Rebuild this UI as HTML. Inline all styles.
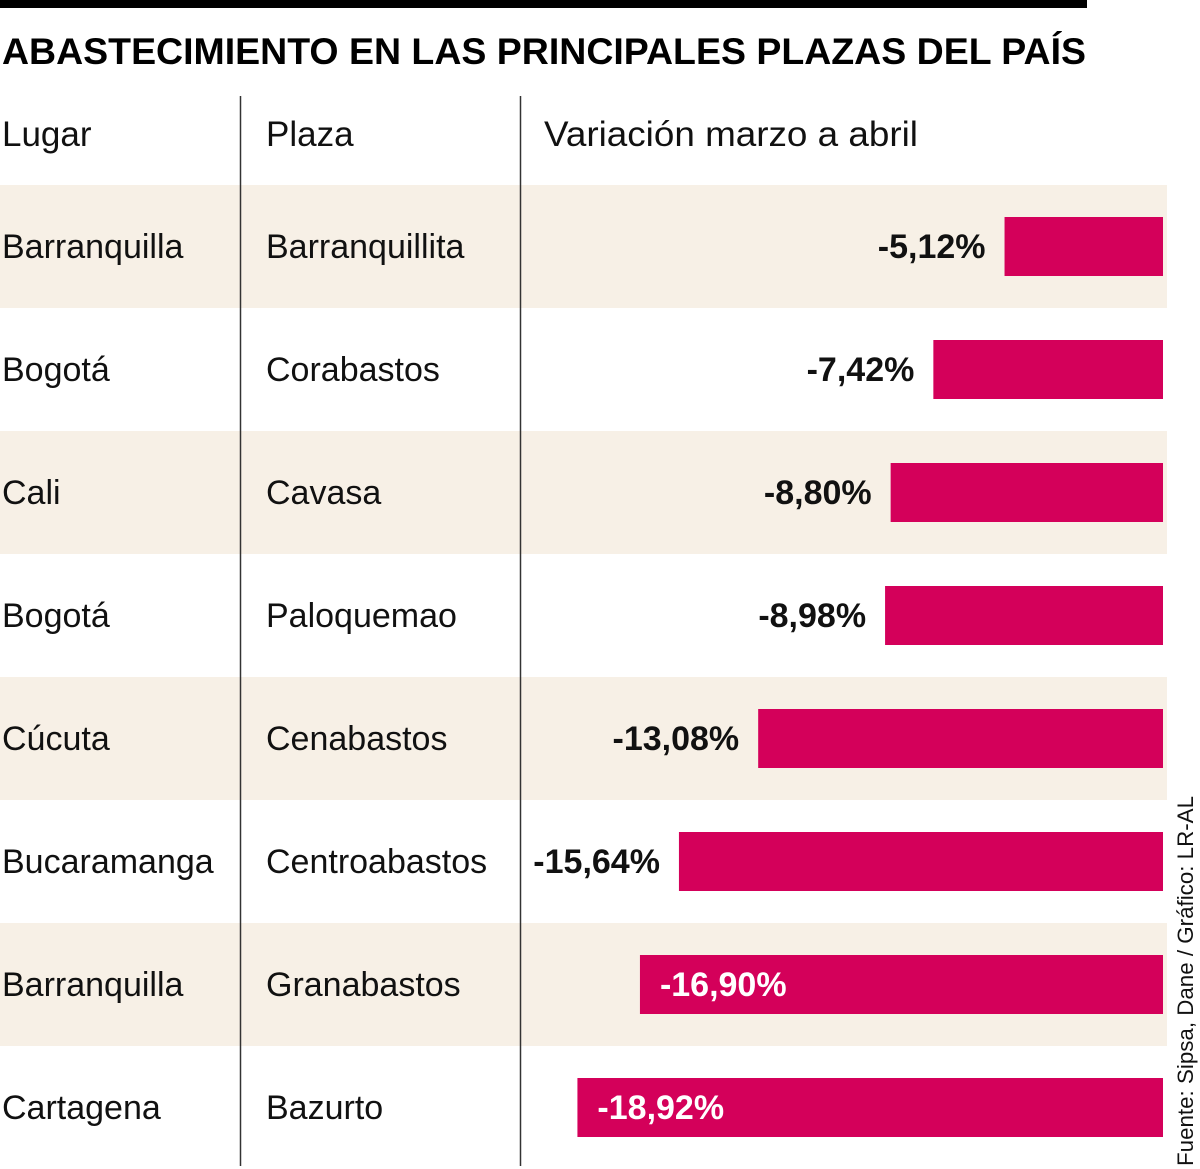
<!DOCTYPE html>
<html><head><meta charset="utf-8"><style>
html,body{margin:0;padding:0;background:#fff;}
svg{display:block;font-family:"Liberation Sans",sans-serif;}
</style></head><body>
<svg id="chart" width="1200" height="1169" viewBox="0 0 1200 1169">
<rect x="0" y="0" width="1087" height="8" fill="#000"/>
<text x="2" y="64" font-size="37" font-weight="bold" textLength="1084" lengthAdjust="spacingAndGlyphs" fill="#000">ABASTECIMIENTO EN LAS PRINCIPALES PLAZAS DEL PAÍS</text>
<text x="2" y="146" font-size="35" fill="#111">Lugar</text>
<text x="266" y="146" font-size="35" fill="#111">Plaza</text>
<text x="544" y="146" font-size="35" fill="#111" textLength="374" lengthAdjust="spacingAndGlyphs">Variación marzo a abril</text>
<g id="rows"></g>
<line x1="240.5" y1="96" x2="240.5" y2="1166" stroke="#333" stroke-width="1.5"/>
<line x1="520.5" y1="96" x2="520.5" y2="1166" stroke="#333" stroke-width="1.5"/>
<text transform="translate(1193,1166) rotate(-90)" font-size="22" fill="#111" textLength="370" lengthAdjust="spacingAndGlyphs">Fuente: Sipsa, Dane / Gráfico: LR-AL</text>
</svg>
<script>
const places = ["Barranquilla","Bogotá","Cali","Bogotá","Cúcuta","Bucaramanga","Barranquilla","Cartagena"];
const markets = ["Barranquillita","Corabastos","Cavasa","Paloquemao","Cenabastos","Centroabastos","Granabastos","Bazurto"];
const values = [-5.12,-7.42,-8.80,-8.98,-13.08,-15.64,-16.90,-18.92];
const labels = ["-5,12%","-7,42%","-8,80%","-8,98%","-13,08%","-15,64%","-16,90%","-18,92%"];

const NS="http://www.w3.org/2000/svg";
const g=document.getElementById('rows');
const right=1163, scale=30.95, top0=185, rowH=123;
const xPos=v=>right-Math.abs(v)*scale;
function mk(tag,attrs,text){const e=document.createElementNS(NS,tag);for(const k in attrs)e.setAttribute(k,attrs[k]);if(text!=null)e.textContent=text;g.appendChild(e);return e;}
values.forEach((v,i)=>{
  const y=top0+i*rowH;
  if(i%2===0){
    const bg=mk('rect',{x:0,y:y,width:1167,height:rowH,fill:'#f7f0e6'});
    
    
  }
  const t1=mk('text',{x:2,y:y+73,'font-size':34,fill:'#111'},places[i]);
  
  
  const t2=mk('text',{x:266,y:y+73,'font-size':34,fill:'#111'},markets[i]);
  
  
  const x=xPos(v);
  const b=mk('rect',{x:x,y:y+32,width:right-x,height:59,fill:'#d4005a'});
  
  
  const inside=Math.abs(v)>16;
  const t3=mk('text',{x:inside?x+20:x-19,y:y+73,'font-size':34,'font-weight':'bold',fill:inside?'#fff':'#111','text-anchor':inside?'start':'end'},labels[i]);
  
  
});
</script>
</body></html>
